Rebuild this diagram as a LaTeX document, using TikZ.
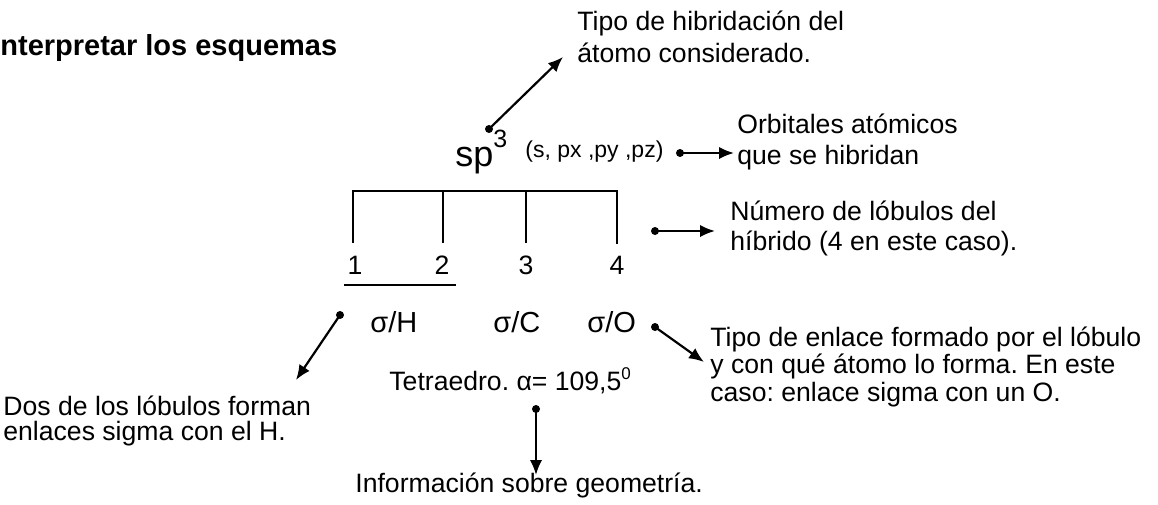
\documentclass[tikz,border=0pt]{standalone}
\usepackage{fontspec}
\setmainfont{Liberation Sans}
\usetikzlibrary{arrows.meta}
\frenchspacing
\begin{document}
\begin{tikzpicture}[x=0.5pt, y=-0.5pt, >={Latex[length=7.5pt,width=6.2pt]},
  txt/.style={anchor=base west, inner sep=0pt, align=left, font=\fontsize{13.3}{15.5}\selectfont},
  sig/.style={anchor=base west, inner sep=0pt, font=\fontsize{14.5}{16}\selectfont},
  dot/.style={circle, fill, inner sep=0pt, minimum size=4pt},
  pointer/.style={->, line width=1.1pt},
  bracket/.style={line width=1.4pt}]
\useasboundingbox (0,0) rectangle (1158,504);
\node[anchor=base west, inner sep=0pt, font=\bfseries\fontsize{14.5}{16}\selectfont] (title) at (0,55) {nterpretar los esquemas};
\node[anchor=base west, inner sep=0pt, font=\fontsize{18}{20}\selectfont] (hyb) at (455,166) {sp\raisebox{9.5pt}{\fontsize{12.5}{14}\selectfont 3}};
\node[anchor=base west, inner sep=0pt, font=\fontsize{11.5}{13}\selectfont] (orb) at (525,157) {(s, px ,py ,pz)};
\node[txt, font=\fontsize{13.3}{16}\selectfont] (hybtext) at (577,62) {Tipo de hibridación del\\átomo considerado.};
\node[txt] (orbtext) at (737,164) {Orbitales atómicos\\que se hibridan};
\node[txt, font=\fontsize{13.3}{15}\selectfont] (lobtext) at (730,250) {Número de lóbulos del\\híbrido (4 en este caso).};
\draw[bracket] (353,243)--(353,191)--(617,191)--(617,244);
\foreach \x in {443,526}
{
    \draw[bracket] (\x,191)--(\x,243);
}
\foreach \n/\x in {1/355,2/442,3/526,4/617}
{
    \node[anchor=base, inner sep=0pt, font=\fontsize{13.3}{15.5}\selectfont] (lob\n) at (\x,274) {\n};
}
\draw[line width=1.3pt] (344,285)--(456,285);
\node[sig] (sH) at (370,332) {σ/H};
\node[sig] (sC) at (493,332) {σ/C};
\node[sig] (sO) at (587,332) {σ/O};
\node[txt] (geo) at (389,390) {Tetraedro. α= 109,5\raisebox{5.5pt}{\fontsize{8.5}{10}\selectfont 0}};
\node[txt] (geotext) at (355,492) {Información sobre geometría.};
\node[txt, font=\fontsize{13.3}{12.5}\selectfont] (Htext) at (3,440) {Dos de los lóbulos forman\\enlaces sigma con el H.};
\node[txt, font=\fontsize{13.3}{13.75}\selectfont] (Otext) at (710,401) {Tipo de enlace formado por el lóbulo\\y con qué átomo lo forma. En este\\caso: enlace sigma con un O.};
\node[dot] (dhyb) at (489,129) {};
\coordinate (thyb) at (563,57);
\node[dot] (dorb) at (680,153) {};
\coordinate (torb) at (734,153);
\node[dot] (dlob) at (655,231) {};
\coordinate (tlob) at (715,231);
\node[dot] (dH) at (340,315) {};
\coordinate (tH) at (296,380);
\node[dot] (dO) at (655,327) {};
\coordinate (tO) at (704,362);
\node[dot] (dgeo) at (536,409) {};
\coordinate (tgeo) at (536,475);
\draw[pointer] (dhyb.center)--(thyb);
\draw[pointer] (dorb.center)--(torb);
\draw[pointer] (dlob.center)--(tlob);
\draw[pointer] (dH.center)--(tH);
\draw[pointer] (dO.center)--(tO);
\draw[pointer] (dgeo.center)--(tgeo);
\end{tikzpicture}
\end{document}
